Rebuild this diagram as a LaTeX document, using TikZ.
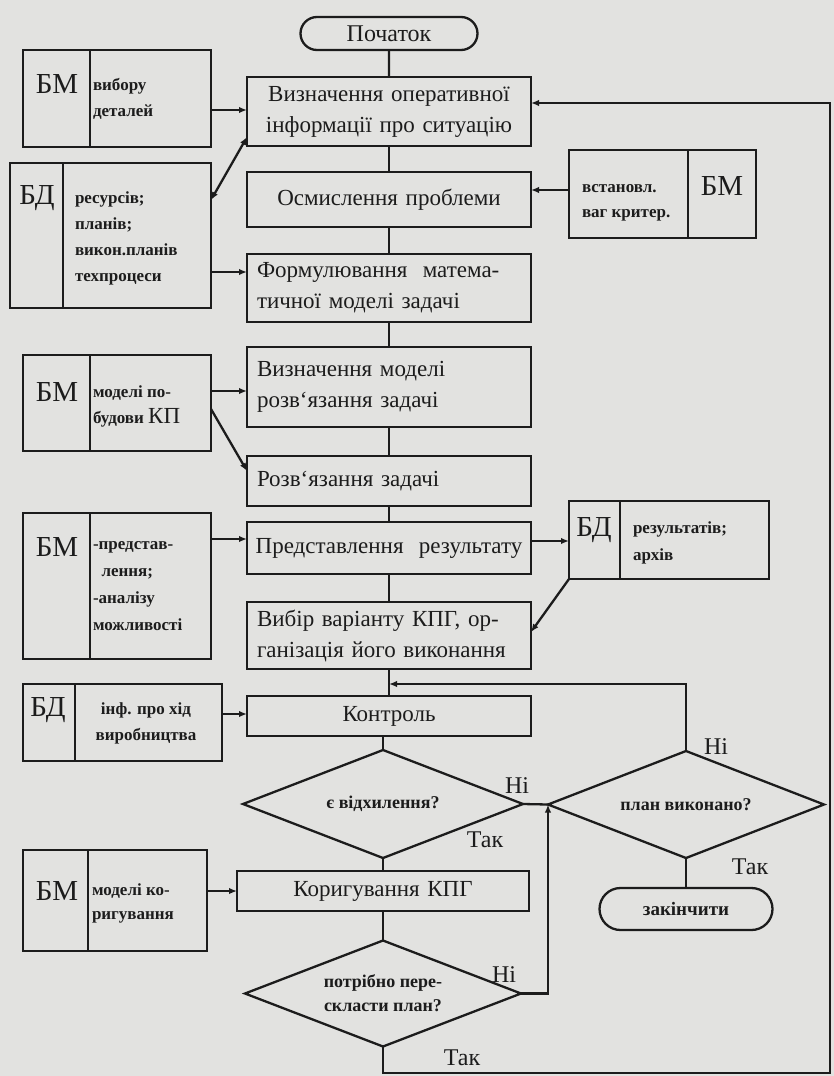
\documentclass[tikz,border=0pt]{standalone}
\usepackage{fontspec}
\setmainfont{Liberation Serif}
\usetikzlibrary{shapes.geometric,shapes.misc,arrows.meta}
\definecolor{paper}{HTML}{E2E2E0}
\definecolor{ink}{HTML}{1C1C1C}
\newcommand\mfont{\fontsize{23}{31}\selectfont}
\newcommand\tfont{\bfseries\fontsize{17}{26}\selectfont}
\newcommand\lblfont{\fontsize{29}{29}\selectfont}
\newcommand\ynfont{\fontsize{24}{24}\selectfont}
\newcommand\dfont{\bfseries\fontsize{18}{24}\selectfont}
\begin{document}
\begin{tikzpicture}[x=1pt,y=-1pt,
  every node/.style={inner sep=0pt,outer sep=0pt,text=ink},
  ln/.style={draw=ink,line width=2.3pt},
  arr/.style={ln,-{Latex[length=8pt,width=6.5pt]}},
  darr/.style={ln,{Latex[length=8pt,width=6.5pt]}-{Latex[length=8pt,width=6.5pt]}},
  mbox/.style={ln,rectangle,text width=264pt,inner xsep=10pt,font=\mfont},
  sbox/.style={ln,rectangle},
  term/.style={ln,rounded rectangle,font=\mfont},
  dec/.style={ln,diamond,shape aspect=2.6,font=\dfont,align=center},
  lbl/.style={font=\lblfont},
  txt/.style={font=\tfont,align=left,anchor=west},
  yn/.style={font=\ynfont}
]
\fill[paper] (0,0) rectangle (834,1076);
\useasboundingbox (0,0) rectangle (834,1076);

% main column
\node[term,minimum width=177pt,minimum height=33pt,font=\fontsize{24}{24}\selectfont] (start) at (389,33.5) {Початок};
\node[mbox,minimum height=69pt,align=center] (b1) at (389,111.5) {Визначення оперативної\\інформації про ситуацію};
\node[mbox,minimum height=55pt,align=center] (b2) at (389,199.5) {Осмислення проблеми};
\node[mbox,minimum height=68pt,align=left] (b3) at (389,288) {Формулювання\ \ матема-\\тичної моделі задачі};
\node[mbox,minimum height=80pt,align=left] (b4) at (389,387) {Визначення моделі\\розв`язання задачі};
\node[mbox,minimum height=50pt,align=left] (b5) at (389,481) {Розв`язання задачі};
\node[mbox,text width=280pt,inner xsep=2pt,minimum height=52pt,align=center] (b6) at (389,548) {Представлення\ \ результату};
\node[mbox,minimum height=67pt,align=left] (b7) at (389,635.5) {Вибір варіанту КПГ, ор-\\ганізація його виконання};
\node[mbox,minimum height=40pt,align=center] (b8) at (389,716) {Контроль};
\node[dec,minimum width=280pt,minimum height=108pt] (d1) at (383,804) {є відхилення?};
\node[dec,minimum width=276pt,minimum height=107pt] (d2) at (686,804.5) {план виконано?};
\node[term,minimum width=173pt,minimum height=42pt,font=\bfseries\fontsize{19}{19}\selectfont] (end) at (686,909) {закінчити};
\node[mbox,text width=272pt,minimum height=40pt,align=center] (b9) at (383,891) {Коригування КПГ};
\node[dec,minimum width=276pt,minimum height=106pt] (d3) at (383,993.5) {потрібно пере-\\скласти план?};

\coordinate (j) at (389,684);
\coordinate (rb) at (830,1073);
\coordinate (rt) at (830,103);

\draw[ln] (start) -- (b1);
\draw[ln] (b1) -- (b2);
\draw[ln] (b2) -- (b3);
\draw[ln] (b3) -- (b4);
\draw[ln] (b4) -- (b5);
\draw[ln] (b5) -- (b6);
\draw[ln] (b6) -- (b7);
\draw[ln] (b7) -- (b8);
\draw[ln] (b8.south -| d1.north) -- (d1.north);
\draw[ln] (d1) -- (b9);
\draw[ln] (b9) -- (d3);
\draw[ln] (d1.east) -- (d2.west);
\draw[arr] (d3.east) -| (d2.west);
\draw[arr] (d2.north) |- (j);
\draw[ln] (d2.south) -- (end.north);
\draw[arr] (d3.south) |- (rb) -- (rt) -- (b1.east |- rt);

% left / right boxes
\node[sbox,minimum width=188pt,minimum height=97pt] (lb1) at (117,98.5) {};
\draw[ln] (lb1.north -| 90,0) -- (lb1.south -| 90,0);
\node[lbl] (lb1a) at (57,84) {БМ};
\node[txt] (lb1b) at (93,99) {вибору\\деталей};

\node[sbox,minimum width=201pt,minimum height=145pt] (lb2) at (110.5,235.5) {};
\draw[ln] (lb2.north -| 63,0) -- (lb2.south -| 63,0);
\node[lbl] (lb2a) at (37,198) {БД};
\node[txt] (lb2b) at (75,238) {ресурсів;\\планів;\\викон.планів\\техпроцеси};

\node[sbox,minimum width=188pt,minimum height=96pt] (lb3) at (117,403) {};
\draw[ln] (lb3.north -| 90,0) -- (lb3.south -| 90,0);
\node[lbl] (lb3a) at (57,392) {БМ};
\node[txt] (lb3b) at (93,406) {моделі по-\\будови {\mdseries\fontsize{23}{23}\selectfont КП}};

\node[sbox,minimum width=188pt,minimum height=146pt] (lb4) at (117,586) {};
\draw[ln] (lb4.north -| 90,0) -- (lb4.south -| 90,0);
\node[lbl] (lb4a) at (57,547) {БМ};
\node[txt,font=\bfseries\fontsize{17}{27}\selectfont] (lb4b) at (93,586) {-представ-\\\ \ лення;\\-аналізу\\можливості};

\node[sbox,minimum width=199pt,minimum height=77pt] (lb5) at (122.5,722.5) {};
\draw[ln] (lb5.north -| 75,0) -- (lb5.south -| 75,0);
\node[lbl] (lb5a) at (48,710) {БД};
\node[font=\tfont,align=center] (lb5b) at (146,723) {інф. про хід\\виробництва};

\node[sbox,minimum width=184pt,minimum height=101pt] (lb6) at (115,900.5) {};
\draw[ln] (lb6.north -| 88,0) -- (lb6.south -| 88,0);
\node[lbl] (lb6a) at (57,891) {БМ};
\node[txt,font=\bfseries\fontsize{17}{24}\selectfont] (lb6b) at (92,903) {моделі ко-\\ригування};

\node[sbox,minimum width=187pt,minimum height=88pt] (rb1) at (662.5,194) {};
\draw[ln] (rb1.north -| 688,0) -- (rb1.south -| 688,0);
\node[lbl] (rb1a) at (722,186) {БМ};
\node[txt,font=\bfseries\fontsize{17}{25}\selectfont] (rb1b) at (582,203) {встановл.\\ваг критер.};

\node[sbox,minimum width=200pt,minimum height=78pt] (rb2) at (669,540) {};
\draw[ln] (rb2.north -| 620,0) -- (rb2.south -| 620,0);
\node[lbl] (rb2a) at (594,530) {БД};
\node[txt,font=\bfseries\fontsize{17}{27}\selectfont] (rb2b) at (633,543) {результатів;\\архів};

% side connectors
\draw[arr] (lb1.east |- 0,110) -- (b1.west |- 0,110);
\draw[darr] (lb2.east |- 0,200) -- (b1.west |- 0,137);
\draw[arr] (lb2.east |- 0,272) -- (b3.west |- 0,272);
\draw[arr] (rb1.west |- 0,190) -- (b2.east |- 0,190);
\draw[arr] (lb3.east |- 0,391) -- (b4.west |- 0,391);
\draw[arr] (lb3.east |- 0,409) -- (b5.west |- 0,471);
\draw[arr] (lb4.east |- 0,539) -- (b6.west |- 0,539);
\draw[arr] (b6.east |- 0,541) -- (rb2.west |- 0,541);
\draw[arr] (rb2.south west) -- (b7.east |- 0,632);
\draw[arr] (lb5.east |- 0,714) -- (b8.west |- 0,714);
\draw[arr] (lb6.east |- b9.west) -- (b9.west);

% branch labels
\node[yn] (n1) at (517,786) {Ні};
\node[yn] (t1) at (485,840) {Так};
\node[yn] (n2) at (716,747) {Ні};
\node[yn] (t2) at (750,867) {Так};
\node[yn] (n3) at (504,975) {Ні};
\node[yn] (t3) at (462,1058) {Так};
\end{tikzpicture}
\end{document}
